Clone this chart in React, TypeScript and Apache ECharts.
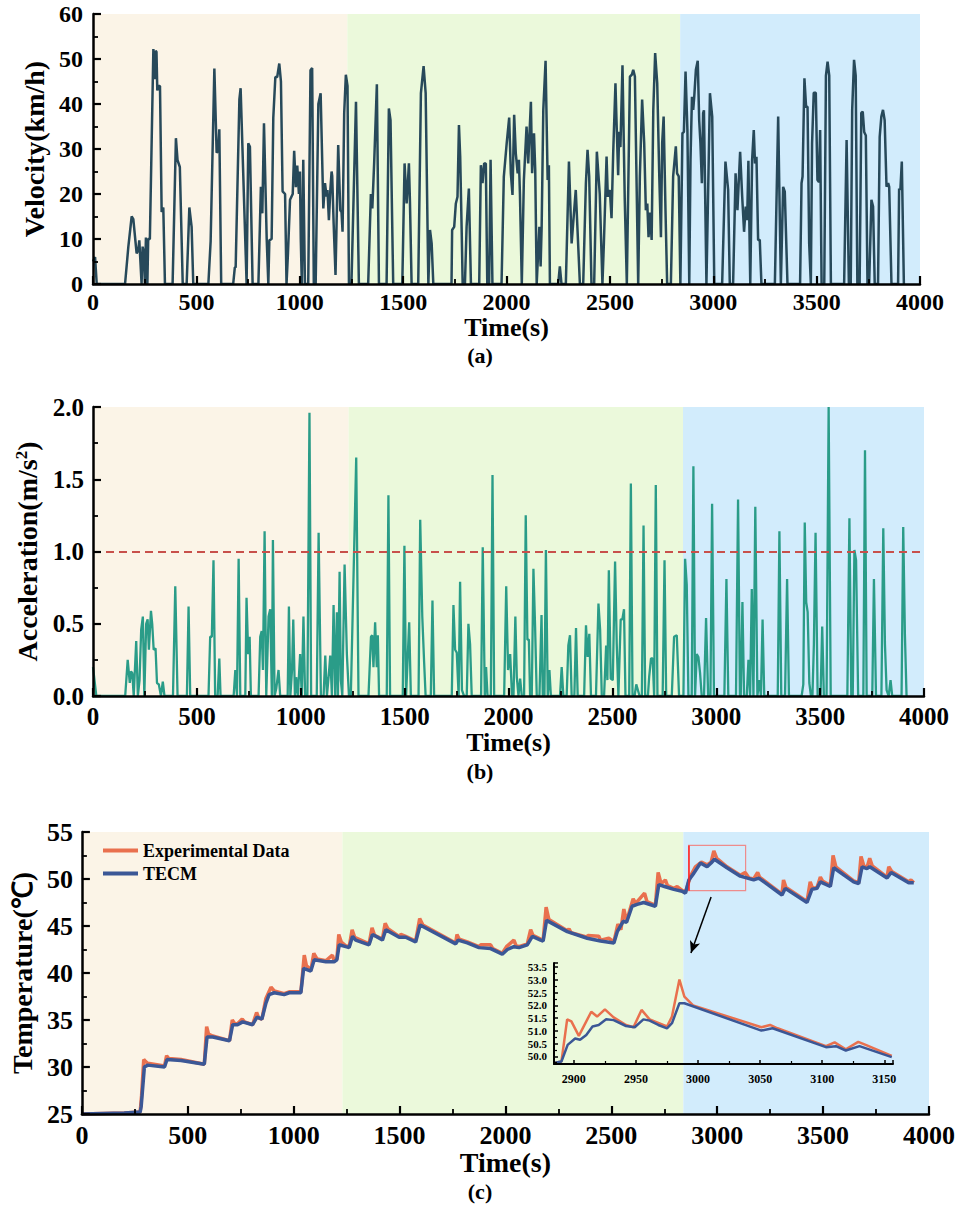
import React, { useEffect, useRef } from "react";
import * as echarts from "echarts";

const FONT = "Liberation Serif";

// ---------------- data ----------------
const phaseBounds = [0, 1230, 2840, 4000];
const phaseColors = ["#fbf4e7", "#ebf9db", "#d2ecfc"];

const velocity: number[][] = [
  [0, 5], [10, 6], [18, 0],
  [155, 0], [171, 8.3], [187, 15], [195, 14.4], [211, 6.8], [219, 7.5], [224, 9.7], [235, 0], [240, 8.3], [246, 7], [251, 0], [256, 10.3], [263, 0], [267, 10], [275, 10],
  [292, 52.2], [299, 45.5], [303, 51.8], [307, 51.6], [311, 43], [316, 44], [324, 44], [332, 16], [340, 17], [348, 0],
  [385, 0], [401, 32.4], [409, 27.5], [420, 26], [434, 0],
  [453, 0], [466, 17], [477, 12.7], [485, 0],
  [558, 0], [569, 9.5], [587, 47.9], [598, 29.2], [606, 29.6], [611, 34.4], [620, 0],
  [678, 0], [686, 3.7], [690, 3.7], [708, 41], [714, 43.5], [743, 0],
  [751, 31.3], [759, 30.5], [772, 0],
  [800, 0], [812, 21.6], [819, 15.7], [827, 35.7], [840, 10.2], [848, 0], [853, 9.7], [864, 10], [872, 36.9], [882, 46], [891, 46], [901, 49], [909, 45], [917, 20.6], [929, 20], [936, 0],
  [943, 6.8], [953, 18.7], [966, 20], [973, 29.6], [981, 21.5], [988, 26.3], [996, 20], [1001, 25], [1005, 10], [1010, 0], [1017, 27.6], [1025, 0],
  [1041, 0], [1052, 47.5], [1060, 48], [1068, 0], [1077, 0], [1090, 40], [1101, 42.4], [1114, 16.8], [1122, 22.4], [1130, 19.4], [1134, 20.9], [1141, 14.2], [1148, 20.9], [1154, 25], [1157, 24], [1164, 13.4], [1173, 2],
  [1186, 30.9], [1196, 16.4], [1202, 16], [1207, 11.6], [1215, 38], [1223, 46.5], [1231, 44], [1238, 0],
  [1250, 0], [1272, 40.5], [1286, 0],
  [1331, 0], [1344, 20], [1351, 16.8], [1360, 27], [1373, 44.4], [1383, 0],
  [1420, 0], [1431, 39], [1439, 36.4], [1452, 0],
  [1496, 0], [1507, 26.8], [1517, 17.9], [1521, 20.9], [1528, 26.8], [1533, 18.3], [1541, 0],
  [1573, 0], [1586, 42.4], [1599, 48.4], [1609, 42.4], [1622, 0], [1630, 12], [1638, 9], [1646, 0],
  [1734, 0], [1737, 12], [1747, 12.7], [1755, 17.9], [1763, 19.4], [1770, 35.3], [1776, 28.3], [1783, 12.4], [1788, 0], [1799, 0], [1807, 12.7], [1818, 21.2], [1828, 0],
  [1868, 0], [1876, 26.4], [1884, 22.4], [1892, 26.8], [1900, 26.8], [1907, 0], [1916, 0], [1923, 27.6], [1932, 0],
  [1976, 0], [1987, 23.8], [2001, 31.3], [2013, 37], [2021, 24.6], [2029, 19.8], [2037, 37.6], [2045, 29], [2054, 24.6], [2060, 27.6], [2065, 20], [2074, 0],
  [2084, 23.1], [2097, 35], [2105, 26.8], [2118, 40.5], [2124, 24.6], [2133, 33.5], [2139, 25.3], [2146, 0], [2159, 12.7], [2165, 3.9], [2170, 12.7], [2178, 38.7], [2189, 49.6], [2199, 23.1], [2205, 26.4], [2210, 0],
  [2250, 0], [2258, 3.9], [2266, 0], [2287, 0], [2302, 27.2], [2315, 9], [2335, 20.9], [2355, 0],
  [2371, 0], [2384, 22.4], [2392, 29.8], [2400, 23.9], [2411, 0], [2424, 0], [2437, 29.4], [2451, 20], [2464, 0], [2471, 9], [2484, 28.3], [2490, 19.4], [2500, 20.9], [2508, 14.6], [2516, 29],
  [2527, 44.6], [2532, 36.4], [2540, 24.2], [2545, 33.8], [2551, 30.4], [2561, 48.6], [2572, 18.7], [2582, 0], [2597, 46.1], [2606, 46.5], [2613, 47.6], [2621, 46.1], [2637, 0],
  [2645, 23.9], [2656, 41], [2666, 31.3], [2674, 16.4], [2681, 17.9], [2687, 10.4], [2694, 15.9], [2702, 9.8], [2710, 38.7], [2719, 51.3], [2729, 44.6], [2739, 23.9], [2747, 10.4], [2753, 31.3], [2760, 37.2], [2769, 16.4], [2777, 0],
  [2795, 0], [2806, 23.9], [2819, 30.6], [2825, 24.6], [2833, 23.9], [2841, 0], [2851, 33.5], [2858, 33.8], [2866, 47.2], [2875, 34.2], [2884, 0],
  [2890, 27.6], [2897, 41.6], [2903, 38.7], [2908, 41.6], [2916, 47.6], [2925, 49.6], [2932, 36.4], [2938, 31.3], [2945, 22.4], [2951, 38], [2955, 38.6], [2967, 0], [2984, 42.4], [2995, 37.2], [3005, 0],
  [3043, 0], [3059, 27.2], [3072, 20.9], [3080, 0], [3096, 0], [3108, 24.6], [3117, 16.4], [3130, 29.4], [3140, 19.4], [3149, 11.6], [3157, 17.2], [3164, 14.2], [3170, 27.4], [3179, 0],
  [3188, 27.6], [3196, 34.2], [3202, 26.8], [3209, 28.3], [3217, 9.8], [3225, 9.8], [3233, 0],
  [3298, 0], [3314, 37.2], [3327, 0], [3338, 21.6], [3346, 20.5], [3359, 0],
  [3420, 0], [3427, 22.4], [3432, 23.9], [3441, 45.7], [3449, 39.4], [3456, 39.4], [3464, 9], [3472, 0], [3478, 31.3], [3486, 42.5], [3496, 42.5], [3504, 23.1], [3511, 22.7], [3517, 34.2], [3524, 0],
  [3537, 0], [3545, 46.3], [3553, 49.4], [3561, 46.3], [3569, 0],
  [3633, 0], [3645, 32], [3656, 0], [3665, 0], [3672, 38.7], [3681, 49.8], [3689, 46.3], [3697, 0], [3708, 0], [3716, 38], [3723, 38.3], [3730, 33.8], [3738, 33], [3746, 0],
  [3754, 0], [3765, 18.7], [3773, 17.2], [3781, 0], [3797, 0], [3805, 32.7], [3813, 37.2], [3821, 38.7], [3829, 36.4], [3838, 21.6], [3846, 22.4], [3851, 21.6], [3862, 0],
  [3894, 0], [3899, 21.2], [3905, 20.9], [3912, 27.2], [3922, 0],
];

const acceleration: number[][] = [
  [0, 0.2], [3, 0.2], [16, 0], [155, 0], [167, 0.25], [177, 0.09], [183, 0.17], [189, 0.16], [196, 0], [208, 0.38], [216, 0], [224, 0.11], [232, 0.46], [240, 0.55], [247, 0],
  [256, 0.5], [263, 0.53], [269, 0.32], [279, 0.59], [285, 0.5], [292, 0.32], [301, 0.33], [308, 0.09], [317, 0.08], [327, 0], [336, 0.1], [344, 0],
  [385, 0], [396, 0.76], [407, 0], [452, 0], [460, 0.62], [468, 0], [556, 0], [564, 0.41], [572, 0.41], [580, 0.94], [588, 0], [600, 0], [608, 0.26], [614, 0],
  [677, 0], [685, 0.18], [693, 0], [701, 0.95], [709, 0], [733, 0], [739, 0.68], [747, 0.29], [754, 0.41], [760, 0],
  [797, 0], [805, 0.41], [812, 0.45], [818, 0.18], [826, 1.14], [834, 0], [845, 0.55], [853, 0.6], [861, 0], [866, 1.08], [874, 0], [882, 0.05], [893, 0.18], [901, 0],
  [937, 0], [943, 0.62], [950, 0], [958, 0.18], [964, 0.53], [972, 0], [978, 0.13], [986, 0], [997, 0.29], [1005, 0], [1013, 0.55], [1021, 0],
  [1032, 0], [1042, 1.96], [1050, 0], [1077, 0], [1086, 1.13], [1097, 0], [1110, 0], [1118, 0.28], [1126, 0], [1134, 0.13], [1142, 0.28], [1150, 0], [1158, 0.63], [1166, 0],
  [1174, 0.58], [1179, 0], [1187, 0.86], [1193, 0.11], [1200, 0], [1211, 0.91], [1222, 0.29], [1232, 0], [1241, 0], [1267, 1.65], [1278, 0],
  [1326, 0], [1338, 0.41], [1344, 0.42], [1350, 0.2], [1358, 0.51], [1366, 0.2], [1371, 0.42], [1377, 0], [1414, 0], [1422, 1.39], [1430, 0],
  [1491, 0], [1499, 1.04], [1507, 0], [1522, 0.51], [1530, 0], [1567, 0], [1575, 1.22], [1585, 0.55], [1594, 0.23], [1601, 0], [1626, 0], [1634, 0.66], [1642, 0],
  [1727, 0], [1735, 0.63], [1743, 0.32], [1751, 0.3], [1760, 0], [1767, 0.79], [1776, 0.04], [1786, 0], [1799, 0], [1807, 0.5], [1815, 0.36], [1823, 0],
  [1868, 0], [1876, 1.03], [1886, 0], [1892, 0.2], [1899, 0], [1915, 0], [1923, 1.53], [1931, 0],
  [1979, 0], [1989, 0.76], [1998, 0.18], [2008, 0.29], [2017, 0], [2024, 0], [2033, 0.55], [2040, 0.13], [2048, 0], [2056, 0.12], [2064, 0],
  [2075, 0], [2083, 1.25], [2091, 0.39], [2098, 0.39], [2104, 0], [2112, 0], [2120, 0.88], [2128, 0.48], [2136, 0], [2149, 0], [2159, 0.56], [2165, 0],
  [2173, 0], [2180, 1.01], [2189, 0], [2197, 0.18], [2204, 0], [2248, 0], [2256, 0.2], [2264, 0], [2280, 0], [2288, 0.35], [2296, 0.42], [2304, 0], [2317, 0], [2325, 0.47], [2333, 0],
  [2364, 0], [2373, 0.49], [2381, 0.27], [2389, 0.43], [2397, 0], [2421, 0], [2433, 0.64], [2441, 0.46], [2449, 0], [2460, 0], [2470, 0.35], [2476, 0.11], [2483, 0.87], [2492, 0.12],
  [2502, 0.11], [2513, 0.93], [2521, 0.36], [2529, 0], [2540, 0.53], [2548, 0.53], [2556, 0.6], [2563, 0], [2581, 0], [2589, 1.47], [2597, 0], [2607, 0], [2615, 0.08], [2631, 0],
  [2642, 0], [2650, 1.18], [2658, 0], [2671, 0], [2677, 0.13], [2686, 0.26], [2694, 0.26], [2701, 0], [2709, 1.46], [2717, 0], [2742, 0], [2751, 0.94], [2759, 0],
  [2786, 0], [2797, 0.41], [2810, 0.42], [2821, 0], [2842, 0], [2850, 0.95], [2858, 0.77], [2866, 0], [2882, 0], [2890, 1.59], [2898, 0], [2906, 0.29], [2914, 0.27], [2922, 0.16], [2930, 0],
  [2941, 0], [2951, 0.54], [2961, 0], [2972, 0], [2980, 1.33], [2989, 0], [3039, 0], [3049, 0.81], [3058, 0], [3095, 0], [3105, 1.36], [3114, 0], [3118, 0], [3126, 0.65], [3134, 0],
  [3147, 0], [3155, 0.25], [3163, 0], [3171, 0.74], [3179, 0], [3188, 1.31], [3198, 0], [3207, 0.11], [3215, 0], [3223, 0.53], [3231, 0],
  [3296, 0], [3304, 1.14], [3313, 0], [3331, 0], [3341, 0.81], [3350, 0],
  [3411, 0], [3419, 0.08], [3426, 1.2], [3433, 0.65], [3440, 0.58], [3448, 0.09], [3456, 0], [3463, 0], [3470, 0.36], [3478, 1.13], [3488, 0], [3502, 0], [3510, 0.48], [3518, 0],
  [3531, 0], [3541, 2.0], [3551, 0], [3631, 0], [3641, 1.23], [3650, 0], [3657, 0], [3665, 1.01], [3673, 0.94], [3683, 0], [3708, 0], [3716, 1.7], [3724, 0],
  [3751, 0], [3759, 0.81], [3769, 0], [3795, 0], [3804, 1.16], [3812, 0.36], [3820, 0.04], [3830, 0], [3839, 0.11], [3847, 0], [3892, 0], [3900, 1.17], [3908, 0.43], [3916, 0],
];

const accThreshold = 1.0;

const tempExperimental: number[][] = [
  [0, 25], [200, 25.1], [275, 25.2], [282, 27], [292, 30.8], [300, 30.6], [311, 30.4], [390, 30.1], [400, 31.2], [410, 30.9], [468, 30.8], [578, 30.3], [589, 34.3], [598, 33.5], [618, 33.3],
  [697, 32.8], [710, 35.0], [722, 34.6], [735, 34.6], [757, 35.1], [768, 34.8], [806, 34.5], [825, 35.8], [835, 35.2], [850, 35.1], [869, 37.3], [893, 38.5], [908, 38.1], [955, 37.8], [979, 38.0],
  [1034, 38.0], [1050, 41.9], [1060, 40.8], [1081, 40.3], [1095, 42.1], [1110, 41.5], [1152, 41.3], [1183, 41.9], [1191, 41.3], [1204, 41.5], [1213, 44.1], [1225, 43.3], [1246, 42.9],
  [1262, 42.8], [1276, 44.6], [1288, 43.8], [1356, 43.1], [1370, 44.8], [1382, 44.0], [1419, 43.6], [1432, 45.3], [1445, 44.7], [1498, 43.9], [1506, 44.1], [1529, 43.9], [1576, 43.4],
  [1595, 45.8], [1610, 45.1], [1765, 43.2], [1771, 44.1], [1782, 43.6], [1820, 43.3], [1875, 42.8], [1883, 43.0], [1930, 43.0], [1940, 42.6], [1985, 42.1], [2005, 42.8], [2040, 43.5],
  [2050, 42.9], [2064, 42.8], [2103, 43.1], [2119, 44.6], [2130, 44.0], [2166, 43.6], [2178, 43.5], [2192, 47.0], [2205, 45.7], [2292, 44.5], [2300, 44.7], [2310, 44.3], [2386, 43.8],
  [2389, 44.0], [2441, 43.9], [2449, 43.5], [2488, 43.7], [2512, 43.3], [2531, 45.2], [2545, 44.6], [2559, 46.8], [2572, 45.5], [2603, 47.9], [2615, 47.4], [2657, 48.5], [2668, 47.6],
  [2708, 47.2], [2721, 50.7], [2735, 49.5], [2755, 49.9], [2765, 49.3], [2795, 49.0], [2811, 49.2], [2834, 48.8], [2850, 48.6], [2874, 50.3], [2897, 51.3], [2925, 51.8], [2952, 51.5],
  [2971, 51.8], [2984, 53.0], [2998, 52.2], [3046, 51.3], [3109, 50.4], [3132, 50.7], [3150, 50.1], [3172, 50.0], [3191, 50.7], [3200, 50.2], [3306, 48.4], [3313, 49.9], [3325, 49.1],
  [3424, 47.6], [3439, 49.7], [3450, 49.0], [3471, 49.1], [3487, 50.2], [3497, 49.8], [3534, 49.3], [3547, 52.5], [3560, 51.3], [3644, 49.8], [3668, 49.6], [3679, 52.4], [3692, 51.4],
  [3707, 51.2], [3720, 52.2], [3732, 51.4], [3802, 50.2], [3810, 51.3], [3824, 50.8], [3904, 49.7], [3915, 49.9], [3928, 49.6],
];

const tempTECM: number[][] = [
  [0, 25], [200, 25.1], [275, 25.2], [280, 25.8], [295, 30.0], [311, 30.2], [390, 30.0], [402, 30.8], [468, 30.7], [578, 30.3], [591, 33.2], [618, 33.2], [697, 32.8], [712, 34.5],
  [735, 34.5], [759, 34.8], [806, 34.5], [827, 35.3], [850, 35.1], [869, 36.8], [884, 37.7], [908, 37.9], [955, 37.7], [979, 37.9], [1034, 37.9], [1047, 40.5], [1081, 40.2], [1097, 41.4],
  [1152, 41.2], [1191, 41.2], [1204, 41.4], [1215, 43.0], [1246, 42.8], [1262, 42.7], [1278, 43.9], [1293, 43.5], [1356, 43.0], [1372, 44.1], [1388, 43.9], [1419, 43.5], [1435, 44.6],
  [1498, 43.8], [1529, 43.8], [1576, 43.3], [1597, 45.1], [1765, 43.1], [1776, 43.5], [1820, 43.2], [1875, 42.7], [1930, 42.6], [1985, 42.0], [2009, 42.5], [2040, 42.8], [2064, 42.7],
  [2103, 43.0], [2127, 43.9], [2166, 43.5], [2178, 43.4], [2194, 45.6], [2292, 44.4], [2386, 43.7], [2449, 43.4], [2512, 43.2], [2528, 44.4], [2556, 45.5], [2572, 45.4], [2598, 47.1],
  [2622, 47.3], [2653, 47.5], [2708, 47.1], [2724, 49.4], [2751, 49.2], [2795, 48.9], [2834, 48.7], [2850, 48.5], [2866, 49.9], [2889, 50.6], [2921, 51.7], [2952, 51.3], [2971, 51.7],
  [2987, 52.1], [3046, 51.2], [3109, 50.3], [3172, 49.9], [3196, 50.1], [3306, 48.3], [3321, 49.0], [3424, 47.5], [3447, 48.9], [3471, 49.0], [3487, 49.7], [3534, 49.2], [3550, 51.2],
  [3644, 49.7], [3668, 49.5], [3684, 51.3], [3707, 51.1], [3720, 51.3], [3802, 50.1], [3821, 50.7], [3904, 49.6], [3928, 49.6],
];

const insetExperimental: number[][] = [
  [2884, 49.74], [2890, 49.8], [2894.6, 51.45], [2898, 51.37], [2904, 50.8], [2914, 51.75], [2918.7, 51.56], [2925, 51.84], [2932, 51.53], [2942, 51.23], [2948, 51.14], [2954.5, 51.82],
  [2961, 51.45], [2975, 51.17], [2979, 51.56], [2985, 53.01], [2989, 52.34], [2996, 52.0], [3051, 51.14], [3058, 51.23], [3064, 51.1], [3103, 50.4], [3110, 50.55], [3119, 50.28],
  [3129, 50.57], [3135, 50.45], [3156, 50.02],
];
const insetTECM: number[][] = [
  [2884, 49.74], [2890, 49.8], [2895, 50.45], [2901, 50.7], [2905, 50.65], [2910, 50.84], [2915, 51.17], [2920, 51.23], [2926, 51.45], [2932, 51.42], [2942, 51.19], [2949, 51.14],
  [2956, 51.45], [2961, 51.4], [2968, 51.23], [2975, 51.1], [2979, 51.3], [2985, 52.08], [2989, 52.08], [3051, 51.01], [3060, 51.1], [3103, 50.36], [3111, 50.4], [3119, 50.23],
  [3130, 50.4], [3156, 49.97],
];
const insetXRange = [2884, 3157];
const insetYRange = [49.7, 53.66];

// zoom box (data coords of panel c) and arrow
const zoomBox = { x0: 2865, x1: 3134, y0: 48.76, y1: 53.57 };
const arrowFrom = [2971, 48.08];
const arrowTo = [2876, 42.13];

const captions = ["(a)", "(b)", "(c)"];

// ---------------- helpers ----------------
const bandArea = () => ({
  silent: true,
  data: phaseColors.map((c, i) => [
    { xAxis: phaseBounds[i], itemStyle: { color: c } },
    { xAxis: phaseBounds[i + 1] },
  ]),
});

function valAxis(o: any) {
  const fmt = o.formatter ?? ((v: number) => String(v));
  return {
    type: "value",
    gridIndex: o.grid,
    z: 10,
    min: o.min,
    max: o.max,
    interval: o.interval,
    name: o.name,
    nameLocation: "middle",
    nameGap: o.nameGap,
    nameTextStyle: {
      fontFamily: FONT,
      fontWeight: "bold",
      fontSize: o.nameSize,
      color: "#000",
      rich: o.rich,
    },
    axisLine: { show: true, onZero: false, lineStyle: { color: "#000", width: 2.5 } },
    axisTick: { show: true, inside: true, length: 8, lineStyle: { color: "#000", width: 2.2 } },
    minorTick: { show: true, splitNumber: 2, length: 5, lineStyle: { color: "#000", width: 1.8 } },
    axisLabel: {
      fontFamily: FONT,
      fontWeight: "bold",
      fontSize: o.fontSize,
      color: "#000",
      margin: o.margin,
      formatter: fmt,
    },
    splitLine: { show: false },
  };
}

export default function App() {
  const ref = useRef<HTMLDivElement>(null);
  useEffect(() => {
    if (!ref.current) return;
    const chart = echarts.init(ref.current, null, { renderer: "svg" });
    const orange = "#e9704e";
    const blue = "#3b5796";
    const accRich = {
      a: { fontFamily: FONT, fontWeight: "bold", fontSize: 28, color: "#000" },
      sup: { fontFamily: FONT, fontWeight: "bold", fontSize: 17, color: "#000", verticalAlign: "top", padding: [0, 0, 12, 0] },
    };
    const insetAxisCommon = {
      type: "value",
      gridIndex: 3,
      z: 12,
      axisLine: { show: true, onZero: false, lineStyle: { color: "#000", width: 2 } },
      axisTick: { show: true, inside: true, length: 4, lineStyle: { color: "#000", width: 1.5 } },
      minorTick: { show: true, splitNumber: 2, length: 3, lineStyle: { color: "#000", width: 1.2 } },
      splitLine: { show: false },
    };
    const captionGraphic = captions.map((txt, i) => ({
      type: "text",
      left: "center",
      top: [344, 760, 1180][i],
      style: { text: txt, fontFamily: FONT, fontWeight: "bold", fontSize: 22, fill: "#000" },
    }));
    const option: any = {
      animation: false,
      backgroundColor: "#fff",
      textStyle: { fontFamily: FONT },
      grid: [
        { left: 93, top: 14, width: 827, height: 270 },
        { left: 93, top: 407, width: 831, height: 289 },
        { left: 81, top: 832, width: 848, height: 282 },
        { left: 554, top: 963, width: 339, height: 101 },
      ],
      legend: {
        data: ["Experimental Data", "TECM"],
        orient: "vertical",
        left: 98,
        top: 836,
        icon: "rect",
        itemWidth: 35,
        itemHeight: 4,
        itemGap: 4,
        textStyle: { fontFamily: FONT, fontWeight: "bold", fontSize: 18, color: "#000", lineHeight: 19 },
      },
      xAxis: [
        valAxis({ grid: 0, min: 0, max: 4000, interval: 500, name: "Time(s)", nameGap: 27, nameSize: 26, fontSize: 24, margin: 6 }),
        valAxis({ grid: 1, min: 0, max: 4000, interval: 500, name: "Time(s)", nameGap: 33, nameSize: 26, fontSize: 25, margin: 8 }),
        valAxis({ grid: 2, min: 0, max: 4000, interval: 500, name: "Time(s)", nameGap: 30, nameSize: 28, fontSize: 26, margin: 8 }),
        {
          ...insetAxisCommon,
          min: insetXRange[0],
          max: insetXRange[1],
          splitNumber: 5,
          axisLabel: {
            showMinLabel: false, showMaxLabel: false,
            fontFamily: FONT, fontWeight: "bold", fontSize: 12, color: "#000", margin: 9,
            formatter: (v: number) => String(v),
          },
        },
      ],
      yAxis: [
        valAxis({ grid: 0, min: 0, max: 60, interval: 10, name: "Velocity(km/h)", nameGap: 45, nameSize: 28, fontSize: 24, margin: 10 }),
        valAxis({
          grid: 1, min: 0, max: 2, interval: 0.5, name: "{a|Acceleration(m/s}{sup|2}{a|)}", nameGap: 44, nameSize: 28, fontSize: 25, margin: 9,
          rich: accRich, formatter: (v: number) => v.toFixed(1),
        }),
        valAxis({ grid: 2, min: 25, max: 55, interval: 5, name: "Temperature(\u2103)", nameGap: 40, nameSize: 28, fontSize: 26, margin: 9 }),
        {
          ...insetAxisCommon,
          min: insetYRange[0],
          max: insetYRange[1],
          splitNumber: 8,
          axisLabel: {
            showMinLabel: false, showMaxLabel: false,
            fontFamily: FONT, fontWeight: "bold", fontSize: 11, color: "#000", margin: 7,
            formatter: (v: number) => v.toFixed(1),
          },
        },
      ],
      series: [
        {
          name: "Velocity",
          type: "line",
          xAxisIndex: 0,
          yAxisIndex: 0,
          data: velocity,
          showSymbol: false,
          symbol: "none",
          color: "#27495a",
          lineStyle: { color: "#27495a", width: 2.5 },
          z: 3,
          markArea: bandArea(),
        },
        {
          name: "Acceleration",
          type: "line",
          xAxisIndex: 1,
          yAxisIndex: 1,
          data: acceleration,
          showSymbol: false,
          symbol: "none",
          color: "#2a9c88",
          lineStyle: { color: "#2a9c88", width: 2.3 },
          z: 3,
          markArea: bandArea(),
          markLine: {
            silent: true,
            symbol: "none",
            label: { show: false },
            lineStyle: { color: "#c8504b", width: 2, type: [8, 5] },
            data: [{ yAxis: accThreshold }],
          },
        },
        {
          name: "Experimental Data",
          type: "line",
          xAxisIndex: 2,
          yAxisIndex: 2,
          data: tempExperimental,
          showSymbol: false,
          symbol: "none",
          color: orange,
          lineStyle: { color: orange, width: 3.5 },
          z: 3,
          markArea: bandArea(),
        },
        {
          name: "TECM",
          type: "line",
          xAxisIndex: 2,
          yAxisIndex: 2,
          data: tempTECM,
          showSymbol: false,
          symbol: "none",
          color: blue,
          lineStyle: { color: blue, width: 3.5 },
          z: 4,
          markArea: {
            silent: true,
            data: [[
              { xAxis: zoomBox.x0, yAxis: zoomBox.y1, itemStyle: { color: "rgba(0,0,0,0)", borderColor: "#ee8c8c", borderWidth: 1.2 } },
              { xAxis: zoomBox.x1, yAxis: zoomBox.y0 },
            ]],
          },
          markLine: {
            silent: true,
            symbol: ["none", "arrow"],
            symbolSize: [8, 12],
            label: { show: false },
            lineStyle: { color: "#000", width: 1.5, type: "solid" },
            data: [
              [{ coord: arrowFrom }, { coord: arrowTo }],
              [
                { coord: [zoomBox.x0, zoomBox.y0], symbol: "none", lineStyle: { color: "#ff2020", width: 1.5, type: "solid" } },
                { coord: [zoomBox.x0, zoomBox.y1], symbol: "none" },
              ],
            ],
          },
        },
        {
          name: "Experimental Data",
          type: "line",
          xAxisIndex: 3,
          yAxisIndex: 3,
          data: insetExperimental,
          showSymbol: false,
          symbol: "none",
          color: orange,
          lineStyle: { color: orange, width: 2.5 },
          z: 5,
        },
        {
          name: "TECM",
          type: "line",
          xAxisIndex: 3,
          yAxisIndex: 3,
          data: insetTECM,
          showSymbol: false,
          symbol: "none",
          color: blue,
          lineStyle: { color: blue, width: 2.5 },
          z: 6,
        },
      ],
      graphic: captionGraphic,
    };
    chart.setOption(option);
    return () => chart.dispose();
  }, []);
  return (
    <div
      ref={ref}
      style={{ position: "absolute", left: 0, top: 0, width: 960, height: 1218 }}
    />
  );
}
